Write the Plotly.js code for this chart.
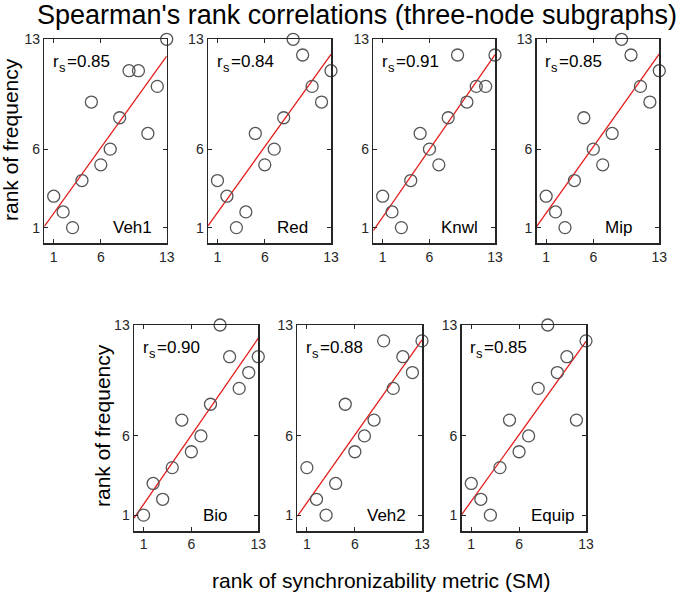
<!DOCTYPE html>
<html>
<head>
<meta charset="utf-8">
<script src="https://cdn.plot.ly/plotly-3.0.1.min.js"></script>
<style>html,body{margin:0;padding:0;background:#fff;}#chart{width:685px;height:593px;}</style>
</head>
<body>
<div id="chart"></div>
<script>
// ---- data ----
const smRank = [1, 2, 3, 4, 5, 6, 7, 8, 9, 10, 11, 12, 13];
const freqVeh1  = [3, 2, 1, 4, 9, 5, 6, 8, 11, 11, 7, 10, 13];
const freqRed   = [4, 3, 1, 2, 7, 5, 6, 8, 13, 12, 10, 9, 11];
const freqKnwl  = [3, 2, 1, 4, 7, 6, 5, 8, 12, 9, 10, 10, 12];
const freqMip   = [3, 2, 1, 4, 8, 6, 5, 7, 13, 12, 10, 9, 11];
const freqBio   = [1, 3, 2, 4, 7, 5, 6, 8, 13, 11, 9, 10, 11];
const freqVeh2  = [4, 2, 1, 3, 8, 5, 6, 7, 12, 9, 11, 10, 12];
const freqEquip = [3, 2, 1, 4, 7, 5, 6, 9, 13, 10, 11, 7, 12];
const panelNames = ["Veh1", "Red", "Knwl", "Mip", "Bio", "Veh2", "Equip"];
const rsValues = ["0.85", "0.84", "0.91", "0.85", "0.90", "0.88", "0.85"];
const tickVals = [1, 6, 13];
const tickText = ["1", "6", "13"];
const titleText = "Spearman's rank correlations (three-node subgraphs)";
const xLabel = "rank of synchronizability metric (SM)";
const yLabel = "rank of frequency";

const series = [freqVeh1, freqRed, freqKnwl, freqMip, freqBio, freqVeh2, freqEquip];

// ---- layout geometry (pixels) ----
const W = 685, H = 593;
const boxes = [
  [44.3, 166.7, 39.3, 243.3],
  [208.0, 331.0, 39.3, 243.3],
  [373.3, 495.0, 39.3, 243.3],
  [536.7, 659.3, 39.3, 243.3],
  [134.0, 258.3, 325.0, 531.0],
  [297.3, 422.0, 325.0, 531.0],
  [461.7, 586.0, 325.0, 531.0]
];

const FONT = "Liberation Sans, Arial, Helvetica, sans-serif";
const axisCol = "#262626";
const traces = [];
const layout = {
  width: W, height: H,
  margin: {l: 0, r: 0, t: 0, b: 0},
  paper_bgcolor: "#ffffff",
  plot_bgcolor: "#ffffff",
  showlegend: false,
  font: {family: FONT, color: axisCol, size: 14},
  annotations: []
};

function fit(xs, ys) {
  const n = xs.length;
  const mx = xs.reduce((a, b) => a + b, 0) / n;
  const my = ys.reduce((a, b) => a + b, 0) / n;
  let sxy = 0, sxx = 0;
  for (let i = 0; i < n; i++) { sxy += (xs[i] - mx) * (ys[i] - my); sxx += (xs[i] - mx) ** 2; }
  const b = sxy / sxx;
  return [b, my - b * mx];
}

series.forEach((ys, i) => {
  const k = i + 1;
  const xa = k === 1 ? "x" : "x" + k;
  const ya = k === 1 ? "y" : "y" + k;
  const [x0, x1, y0, y1] = boxes[i];
  const axCommon = {
    range: [0, 13], tickvals: tickVals, ticktext: tickText,
    ticks: "inside", ticklen: 4, tickwidth: 1, tickcolor: axisCol,
    showline: true, linecolor: axisCol, linewidth: 1.5, mirror: "allticks",
    showgrid: false, zeroline: false,
    tickfont: {family: FONT, size: 14, color: axisCol}
  };
  layout["xaxis" + (k === 1 ? "" : k)] = Object.assign({}, axCommon, {
    domain: [x0 / W, x1 / W], anchor: ya
  });
  layout["yaxis" + (k === 1 ? "" : k)] = Object.assign({}, axCommon, {
    domain: [1 - y1 / H, 1 - y0 / H], anchor: xa
  });
  const [b, a] = fit(smRank, ys);
  traces.push({
    type: "scatter", mode: "lines", xaxis: xa, yaxis: ya,
    x: [0, 13], y: [a, a + b * 13],
    line: {color: "rgb(228,28,28)", width: 1.3}, hoverinfo: "skip"
  });
  traces.push({
    type: "scatter", mode: "markers", xaxis: xa, yaxis: ya,
    x: smRank, y: ys, cliponaxis: false,
    marker: {symbol: "circle-open", size: 12, color: "#555555", line: {width: 1.3, color: "#555555"}}
  });
  const rsFont = {family: FONT, size: 17, color: "#000"};
  layout.annotations.push({
    xref: xa, yref: ya, x: 0.7, y: 11.6, xanchor: "left", yanchor: "middle",
    text: "r", showarrow: false, font: rsFont
  });
  layout.annotations.push({
    xref: xa, yref: ya, x: 0.7, y: 11.6, xanchor: "left", yanchor: "middle",
    xshift: 6, yshift: -6, text: "s", showarrow: false,
    font: {family: FONT, size: 13, color: "#000"}
  });
  layout.annotations.push({
    xref: xa, yref: ya, x: 0.7, y: 11.6, xanchor: "left", yanchor: "middle",
    xshift: 14, text: "=" + rsValues[i], showarrow: false, font: rsFont
  });
  layout.annotations.push({
    xref: xa, yref: ya, x: 7.05, y: 1, xanchor: "left", yanchor: "middle",
    text: panelNames[i], showarrow: false,
    font: {family: FONT, size: 17, color: "#000"}
  });
});

layout.annotations.push({
  xref: "paper", yref: "paper", x: 357 / W, y: 1 - 15 / H, xanchor: "center", yanchor: "middle",
  text: titleText, showarrow: false, font: {family: FONT, size: 27, color: "#000"}
});
layout.annotations.push({
  xref: "paper", yref: "paper", x: 381 / W, y: 1 - 580 / H, xanchor: "center", yanchor: "middle",
  text: xLabel, showarrow: false, font: {family: FONT, size: 21, color: "#000"}
});
layout.annotations.push({
  xref: "paper", yref: "paper", x: 11 / W, y: 1 - 140 / H, xanchor: "center", yanchor: "middle",
  text: yLabel, textangle: -90, showarrow: false, font: {family: FONT, size: 21, color: "#000"}
});
layout.annotations.push({
  xref: "paper", yref: "paper", x: 102 / W, y: 1 - 426 / H, xanchor: "center", yanchor: "middle",
  text: yLabel, textangle: -90, showarrow: false, font: {family: FONT, size: 21, color: "#000"}
});

Plotly.newPlot("chart", traces, layout, {staticPlot: true, displayModeBar: false});
</script>
</body>
</html>
